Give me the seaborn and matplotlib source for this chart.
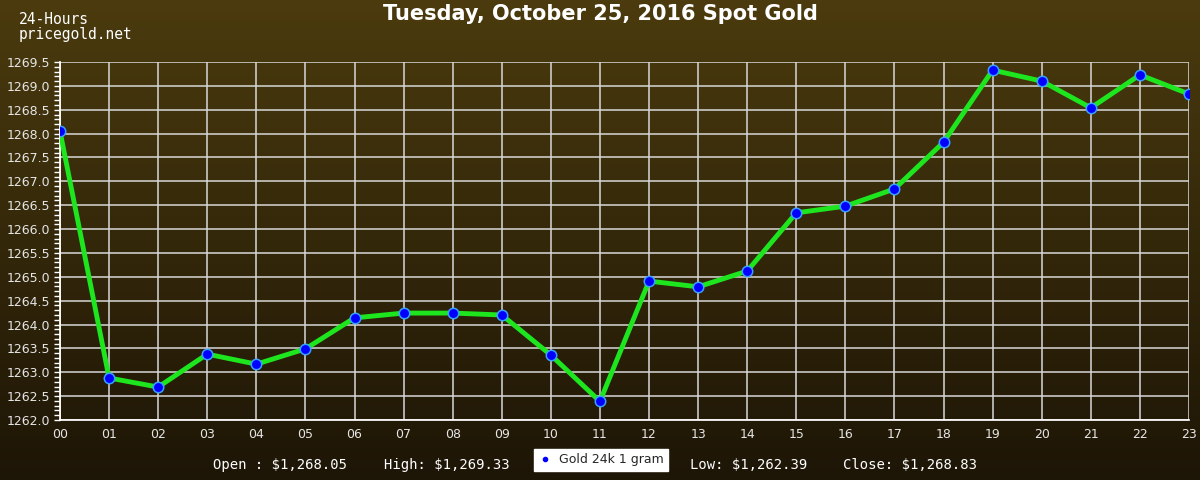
import numpy as np
import pandas as pd
import matplotlib
matplotlib.use("Agg")
import matplotlib.pyplot as plt
import seaborn as sns
from matplotlib.lines import Line2D

hours = ["00", "01", "02", "03", "04", "05", "06", "07", "08", "09", "10", "11",
         "12", "13", "14", "15", "16", "17", "18", "19", "20", "21", "22", "23"]
prices = [1268.05, 1262.88, 1262.69, 1263.38, 1263.17, 1263.49, 1264.14, 1264.24,
          1264.24, 1264.20, 1263.36, 1262.39, 1264.91, 1264.79, 1265.12, 1266.34,
          1266.48, 1266.84, 1267.82, 1269.33, 1269.10, 1268.54, 1269.23, 1268.83]
y_ticks = [1262.0, 1262.5, 1263.0, 1263.5, 1264.0, 1264.5, 1265.0, 1265.5, 1266.0,
           1266.5, 1267.0, 1267.5, 1268.0, 1268.5, 1269.0, 1269.5]
title = "Tuesday, October 25, 2016 Spot Gold"
series_name = "Gold 24k 1 gram"
stats = [("Open : $1,268.05", 213), ("High: $1,269.33", 384),
         ("Low: $1,262.39", 690), ("Close: $1,268.83", 843)]

sns.set_theme(style="white")
plt.rcParams['font.family'] = ['DejaVu Sans']

df = pd.DataFrame({"x": np.arange(len(hours)), "price": prices})

fig = plt.figure(figsize=(12, 4.8), dpi=100)

# gradient background
bg = fig.add_axes([0, 0, 1, 1], zorder=0)
grad = np.linspace(0, 1, 256).reshape(-1, 1)
top = np.array([0x4b, 0x3b, 0x0e]) / 255
bot = np.array([0x1d, 0x15, 0x06]) / 255
img = top[None, None, :] * (1 - grad[:, :, None]) + bot[None, None, :] * grad[:, :, None]
bg.imshow(img, aspect="auto", extent=[0, 1, 0, 1])
bg.set_axis_off()

ax = fig.add_axes([60 / 1200, 1 - 420 / 480, 1129 / 1200, 358 / 480], zorder=1)
ax.patch.set_alpha(0)

sns.lineplot(data=df, x="x", y="price", ax=ax, color="#1ee61e", linewidth=3.5,
             marker="o", markersize=7.5, markerfacecolor="#0000ff",
             markeredgecolor="#3aa0ff", markeredgewidth=1.1, zorder=3)

ax.set_xlim(0, 23)
ax.set_ylim(1262.0, 1269.5)
ax.set_xticks(np.arange(len(hours)))
ax.set_xticklabels(hours)
ax.set_yticks(y_ticks)
ax.set_yticklabels([f"{v:.1f}" for v in y_ticks])
ax.set_yticks(np.arange(1262.0, 1269.55, 0.1), minor=True)
ax.grid(True, which="major", color="#d8d8d8", linewidth=1.1, zorder=1)
ax.set_axisbelow(True)
for s in ax.spines.values():
    s.set_visible(False)
ax.spines["left"].set_visible(True)
ax.spines["left"].set_color("white")
ax.spines["bottom"].set_visible(True)
ax.spines["bottom"].set_color("white")
ax.tick_params(axis="y", which="both", colors="white", direction="out", length=4,
               width=1, labelsize=9, labelcolor="#e6e6e6", left=True, pad=3)
ax.tick_params(axis="x", which="major", colors="white", direction="out", length=0,
               labelsize=9, labelcolor="#e6e6e6", pad=6)
ax.set_xlabel("")
ax.set_ylabel("")

fig.text(0.5, 1 - 14 / 480, title, ha="center", va="center", color="white",
         fontsize=15, fontweight="bold")
fig.text(19 / 1200, 1 - 19 / 480, "24-Hours", ha="left", va="center", color="white",
         fontsize=10.5, family="DejaVu Sans Mono")
fig.text(19 / 1200, 1 - 34 / 480, "pricegold.net", ha="left", va="center", color="white",
         fontsize=10.5, family="DejaVu Sans Mono")

for txt, x in stats:
    fig.text(x / 1200, 1 - 465 / 480, txt, ha="left", va="center", color="white",
             fontsize=10, family="DejaVu Sans Mono")

handle = Line2D([], [], linestyle="none", marker="o", markersize=3,
                markerfacecolor="#0000ff", markeredgecolor="#0000ff")
leg = fig.legend([handle], [series_name], loc="center",
                 bbox_to_anchor=(601 / 1200, 1 - 460 / 480), frameon=True,
                 fontsize=9, handlelength=1, handletextpad=0.6,
                 borderpad=0.35, fancybox=False)
leg.get_frame().set_facecolor("white")
leg.get_frame().set_edgecolor("white")
leg.get_frame().set_alpha(1)

fig.savefig("out.png", dpi=100)
